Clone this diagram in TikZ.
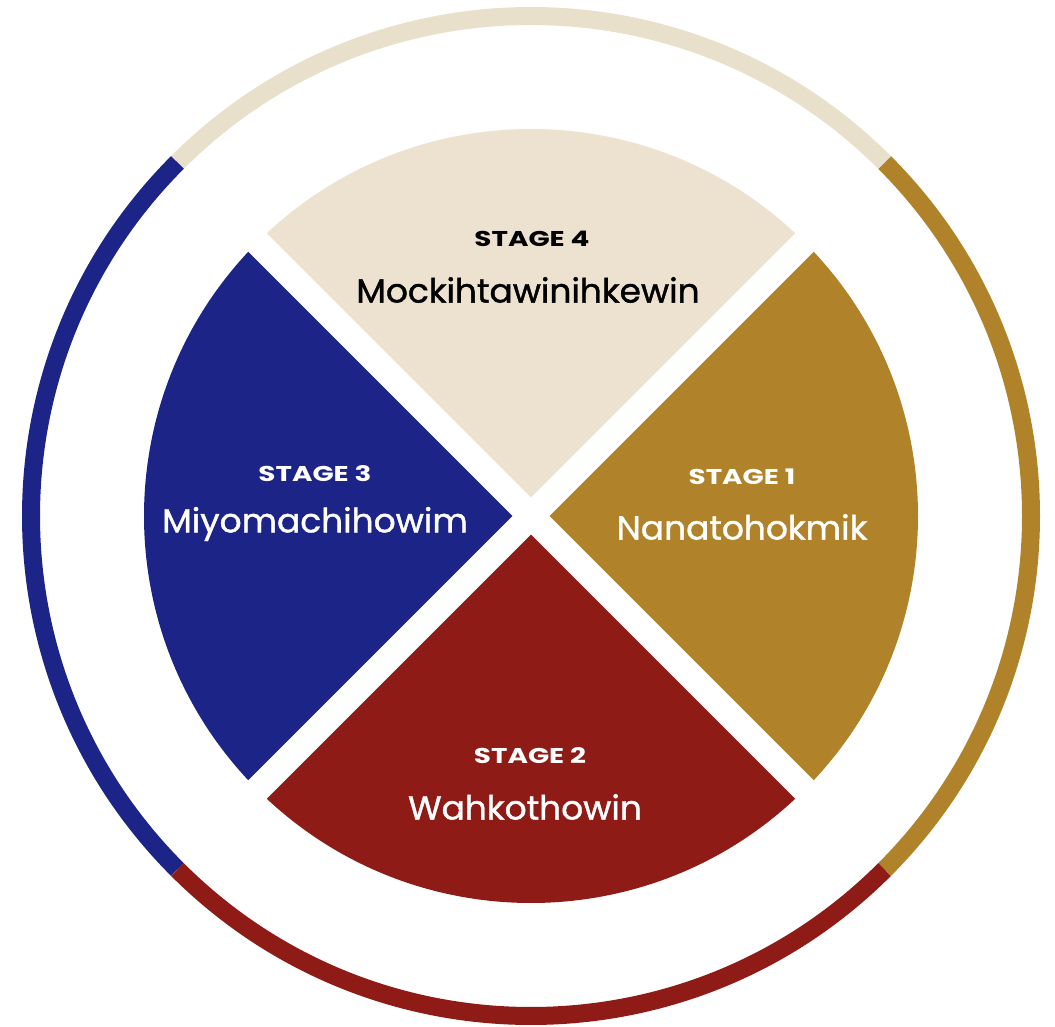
\documentclass[tikz,border=0pt]{standalone}
\usepackage{fontspec}
\usetikzlibrary{calc}
\setmainfont{Poppins}
\newfontfamily\stagefont{Poppins}[FakeStretch=1.3]
\newfontfamily\namefont{Poppins}[FakeBold=1.2,FakeStretch=1.03]
\definecolor{beige}{HTML}{ECE2CF}
\definecolor{ringbeige}{HTML}{E9E0CB}
\definecolor{gold}{HTML}{B0832B}
\definecolor{navy}{HTML}{1C2587}
\definecolor{crimson}{HTML}{8E1B16}
\tikzset{
  stagelbl/.style={font=\stagefont\bfseries\fontsize{21.4}{23}\selectfont, inner sep=0pt, anchor=center},
  namelbl/.style={font=\namefont\fontsize{33.4}{35}\selectfont, inner sep=0pt, anchor=center},
  ringarc/.style={line width=18pt},
}
\begin{document}
\begin{tikzpicture}[x=1pt,y=1pt]
\useasboundingbox (0,0) rectangle (1055,1026);
\coordinate (c) at (531,510);
% pie sectors
\fill[gold]    (c) -- ++(-45:387) arc[start angle=-45, end angle=45, radius=387] -- cycle;
\fill[beige]   (c) -- ++(45:387) arc[start angle=45, end angle=135, radius=387] -- cycle;
\fill[navy]    (c) -- ++(135:387) arc[start angle=135, end angle=225, radius=387] -- cycle;
\fill[crimson] (c) -- ++(225:387) arc[start angle=225, end angle=315, radius=387] -- cycle;
% white separating bands
\draw[white, line width=26pt] ($(c)+(45:420)$) -- ($(c)+(225:420)$);
\draw[white, line width=26pt] ($(c)+(135:420)$) -- ($(c)+(315:420)$);
% outer ring
\draw[ringarc, gold]      ($(c)+(-45:500)$) arc[start angle=-45, end angle=45, radius=500];
\draw[ringarc, ringbeige] ($(c)+(45:500)$) arc[start angle=45, end angle=135, radius=500];
\draw[ringarc, navy]      ($(c)+(135:500)$) arc[start angle=135, end angle=225, radius=500];
\draw[ringarc, crimson]   ($(c)+(225:500)$) arc[start angle=225, end angle=315, radius=500];
% labels
\node[stagelbl, text=black] (s4) at (532,787) {STAGE 4};
\node[namelbl, text=black]  (n4) at (528,736) {Mockihtawinihkewin};
\node[stagelbl, text=white] (s3) at (315,552) {STAGE 3};
\node[namelbl, text=white]  (n3) at (315,502) {Miyomachihowim};
\node[stagelbl, text=white] (s1) at (742,549) {STAGE 1};
\node[namelbl, text=white]  (n1) at (742,499) {Nanatohokmik};
\node[stagelbl, text=white] (s2) at (530,270) {STAGE 2};
\node[namelbl, text=white]  (n2) at (525,219) {Wahkothowin};
\end{tikzpicture}
\end{document}
